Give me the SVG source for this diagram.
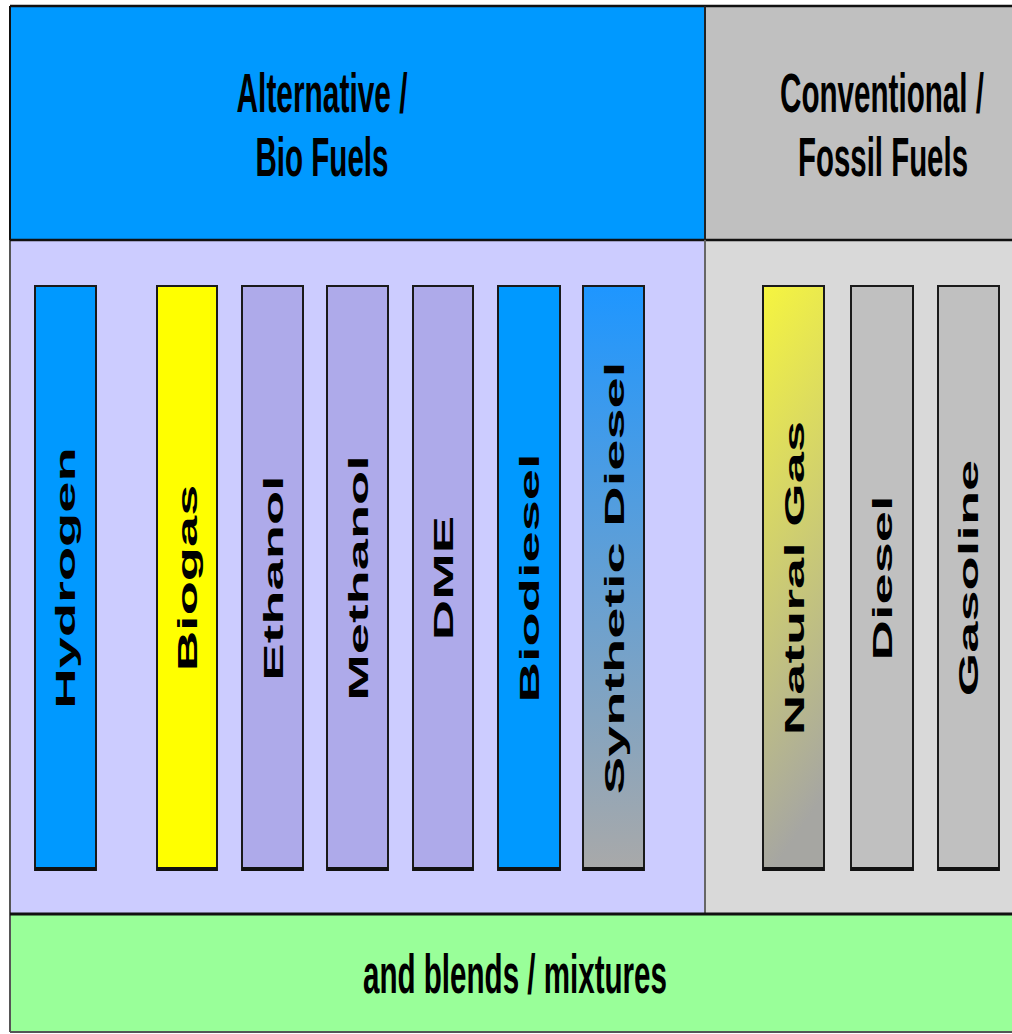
<svg xmlns="http://www.w3.org/2000/svg" width="1012" height="1034" viewBox="0 0 1012 1034">
<style>
.hdr{font-family:"Liberation Sans",Arial,sans-serif;font-size:28px;font-weight:bold;fill:#000;text-anchor:middle}
.lbl{font-family:"Liberation Sans",Arial,sans-serif;font-size:28px;font-weight:bold;fill:#000;text-anchor:middle}
.bar{stroke:#1a1a1a;stroke-width:2}
.shadow{stroke:#111;stroke-width:4}
</style>
<defs>
<linearGradient id="gSyn" x1="0" y1="0" x2="0" y2="1">
<stop offset="0" stop-color="#1E96FF"/>
<stop offset="1" stop-color="#A9A9A9"/>
</linearGradient>
<linearGradient id="gNat" x1="0" y1="0" x2="0.15" y2="1">
<stop offset="0" stop-color="#F6F53F"/>
<stop offset="1" stop-color="#A6A6A2"/>
</linearGradient>
</defs>
<rect width="1012" height="1034" fill="#ffffff"/>
<g id="alt-header">
<rect x="10" y="6" width="695" height="234" fill="#0099FF"/>
<text class="hdr" transform="translate(322,112) scale(1,2)" textLength="171" lengthAdjust="spacingAndGlyphs">Alternative /</text>
<text class="hdr" transform="translate(322,176) scale(1,2)" textLength="133" lengthAdjust="spacingAndGlyphs">Bio Fuels</text>
</g>
<g id="conv-header">
<rect x="705" y="6" width="320" height="234" fill="#C0C0C0"/>
<text class="hdr" transform="translate(882,112) scale(1,2)" textLength="204" lengthAdjust="spacingAndGlyphs">Conventional /</text>
<text class="hdr" transform="translate(883,176) scale(1,2)" textLength="170" lengthAdjust="spacingAndGlyphs">Fossil Fuels</text>
</g>
<g id="alt-body">
<rect x="10" y="240" width="695" height="674" fill="#CCCCFF"/>
</g>
<g id="conv-body">
<rect x="705" y="240" width="320" height="674" fill="#D9D9D9"/>
</g>
<g id="footer">
<rect x="10" y="914" width="1015" height="118" fill="#99FF99"/>
<text class="hdr" transform="translate(515,993) scale(1,2)" textLength="304" lengthAdjust="spacingAndGlyphs">and blends / mixtures</text>
</g>
<g id="frame-lines" fill="none">
<line x1="10" y1="6" x2="1012" y2="6" stroke="#111" stroke-width="2.5"/>
<line x1="10" y1="6" x2="10" y2="240" stroke="#111" stroke-width="2"/>
<line x1="10" y1="240" x2="10" y2="1032" stroke="#555" stroke-width="2"/>
<line x1="10" y1="240" x2="1012" y2="240" stroke="#111" stroke-width="2.5"/>
<line x1="705" y1="6" x2="705" y2="240" stroke="#222" stroke-width="2"/>
<line x1="705" y1="240" x2="705" y2="914" stroke="#666" stroke-width="2"/>
<line x1="10" y1="914" x2="1012" y2="914" stroke="#111" stroke-width="3"/>
<line x1="10" y1="1032" x2="1012" y2="1032" stroke="#555" stroke-width="2"/>
</g>
<g id="hydrogen">
<rect class="bar" x="35" y="286" width="61" height="584" fill="#0099FF"/>
<line class="shadow" x1="35" y1="869" x2="96" y2="869"/>
<text class="lbl" transform="translate(75,578) scale(1,2) rotate(-90)">Hydrogen</text>
</g>
<g id="biogas">
<rect class="bar" x="157" y="286" width="60" height="584" fill="#FFFF00"/>
<line class="shadow" x1="157" y1="869" x2="217" y2="869"/>
<text class="lbl" transform="translate(197,578) scale(1,2) rotate(-90)">Biogas</text>
</g>
<g id="ethanol">
<rect class="bar" x="242" y="286" width="61" height="584" fill="#AEAAEA"/>
<line class="shadow" x1="242" y1="869" x2="303" y2="869"/>
<text class="lbl" transform="translate(283,578) scale(1,2) rotate(-90)">Ethanol</text>
</g>
<g id="methanol">
<rect class="bar" x="327" y="286" width="61" height="584" fill="#AEAAEA"/>
<line class="shadow" x1="327" y1="869" x2="388" y2="869"/>
<text class="lbl" transform="translate(368,578) scale(1,2) rotate(-90)">Methanol</text>
</g>
<g id="dme">
<rect class="bar" x="413" y="286" width="60" height="584" fill="#AEAAEA"/>
<line class="shadow" x1="413" y1="869" x2="473" y2="869"/>
<text class="lbl" transform="translate(453,578) scale(1,2) rotate(-90)">DME</text>
</g>
<g id="biodiesel">
<rect class="bar" x="498" y="286" width="62" height="584" fill="#0099FF"/>
<line class="shadow" x1="498" y1="869" x2="560" y2="869"/>
<text class="lbl" transform="translate(539,578) scale(1,2) rotate(-90)">Biodiesel</text>
</g>
<g id="synthetic-diesel">
<rect class="bar" x="583" y="286" width="61" height="584" fill="url(#gSyn)"/>
<line class="shadow" x1="583" y1="869" x2="644" y2="869"/>
<text class="lbl" transform="translate(624,578) scale(1,2) rotate(-90)">Synthetic Diesel</text>
</g>
<g id="natural-gas">
<rect class="bar" x="763" y="286" width="61" height="584" fill="url(#gNat)"/>
<line class="shadow" x1="763" y1="869" x2="824" y2="869"/>
<text class="lbl" transform="translate(804,578) scale(1,2) rotate(-90)">Natural Gas</text>
</g>
<g id="diesel">
<rect class="bar" x="851" y="286" width="62" height="584" fill="#C0C0C0"/>
<line class="shadow" x1="851" y1="869" x2="913" y2="869"/>
<text class="lbl" transform="translate(892,578) scale(1,2) rotate(-90)">Diesel</text>
</g>
<g id="gasoline">
<rect class="bar" x="938" y="286" width="61" height="584" fill="#C0C0C0"/>
<line class="shadow" x1="938" y1="869" x2="999" y2="869"/>
<text class="lbl" transform="translate(978,578) scale(1,2) rotate(-90)">Gasoline</text>
</g>
<g id="connectors"/>
</svg>
